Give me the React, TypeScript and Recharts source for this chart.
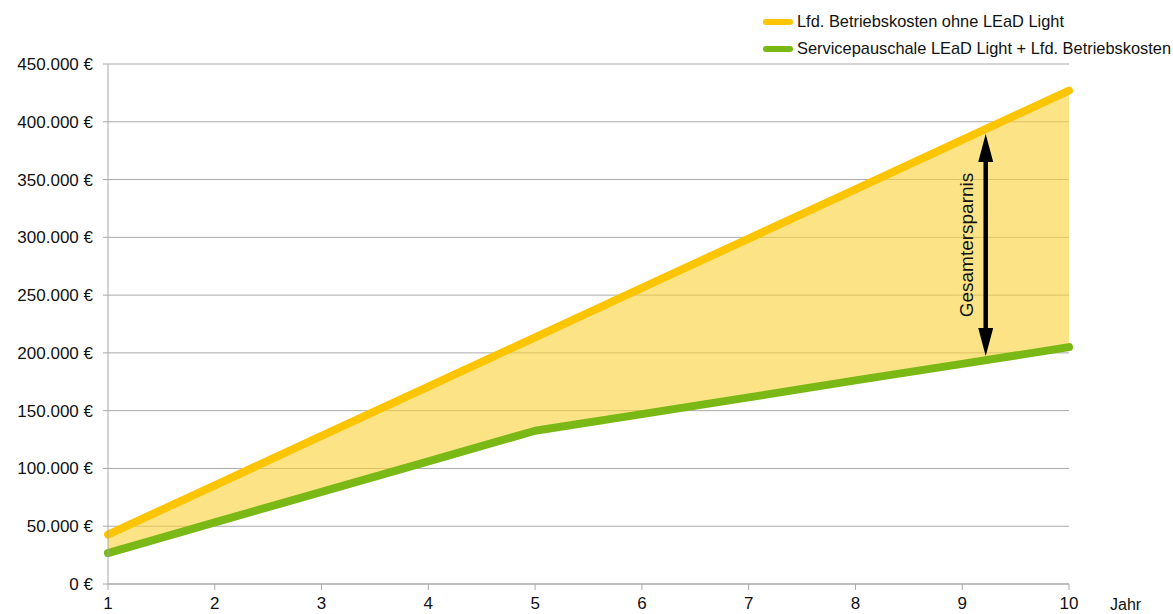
import {
  ComposedChart,
  Area,
  Line,
  CartesianGrid,
  XAxis,
  YAxis,
  ReferenceLine,
} from "recharts";

// Jahr 1..10
const years = [1, 2, 3, 4, 5, 6, 7, 8, 9, 10];
// Lfd. Betriebskosten ohne LEaD Light
const ohneLead = [42700, 85400, 128100, 170800, 213500, 256200, 298900, 341600, 384300, 427000];
// Servicepauschale LEaD Light + Lfd. Betriebskosten
const mitLead = [26800, 53300, 79700, 106200, 132600, 147000, 161500, 176200, 190500, 205000];
const yTicks = [0, 50000, 100000, 150000, 200000, 250000, 300000, 350000, 400000, 450000];
const arrowYear = 9.22;
const arrowFrom = 197300;
const arrowTo = 389400;

const YELLOW = "#fcc500";
const GREEN = "#7ab815";
const FILL = "#fad33c";
const GRID = "#a9a9a9";
const FONT = "'Liberation Sans', Arial, sans-serif";

const data = years.map((y, i) => ({
  year: y,
  ohne: ohneLead[i],
  mit: mitLead[i],
  band: [mitLead[i], ohneLead[i]],
}));

const legendItems = [
  { name: "Lfd. Betriebskosten ohne LEaD Light", color: YELLOW },
  { name: "Servicepauschale LEaD Light + Lfd. Betriebskosten", color: GREEN },
];

function euro(v: number) {
  const s = String(Math.round(v));
  const parts: string[] = [];
  for (let i = s.length; i > 0; i -= 3) parts.unshift(s.slice(Math.max(0, i - 3), i));
  return parts.join(".") + " €";
}

function Arrow(props: any) {
  const { x1, y1, x2, y2 } = props;
  const top = Math.min(y1, y2);
  const bottom = Math.max(y1, y2);
  const x = x1;
  const hl = 28;
  const hw = 7.5;
  const mid = (top + bottom) / 2;
  return (
    <g>
      <line x1={x} y1={top + hl - 2} x2={x} y2={bottom - hl + 2} stroke="#000" strokeWidth={4.5} />
      <polygon points={`${x},${top} ${x - hw},${top + hl} ${x + hw},${top + hl}`} fill="#000" />
      <polygon points={`${x},${bottom} ${x - hw},${bottom - hl} ${x + hw},${bottom - hl}`} fill="#000" />
      <text
        x={x - 19}
        y={mid}
        transform={`rotate(-90 ${x - 19} ${mid})`}
        textAnchor="middle"
        dominantBaseline="central"
        fontSize={19}
        fontFamily={FONT}
        fill="#111"
      >
        Gesamtersparnis
      </text>
    </g>
  );
}

export default function App() {
  return (
    <div style={{ position: "absolute", left: 0, top: 0, width: 1173, height: 614, background: "#fff" }}>
      <ComposedChart
        width={1173}
        height={614}
        data={data}
        margin={{ top: 64, right: 104, left: 8, bottom: 0 }}
      >
        <CartesianGrid stroke={GRID} vertical={false} />
        <XAxis
          dataKey="year"
          type="number"
          domain={[1, 10]}
          ticks={years}
          height={30}
          axisLine={{ stroke: GRID }}
          tickLine={{ stroke: GRID }}
          tickSize={6}
          tickMargin={7}
          tick={{ fill: "#111", fontSize: 17, fontFamily: FONT }}
          label={{
            value: "Jahr",
            position: "right",
            offset: 41,
            dy: 5,
            fill: "#111",
            fontSize: 16,
            fontFamily: FONT,
          }}
        />
        <YAxis
          domain={[0, 450000]}
          ticks={yTicks}
          width={100}
          interval={0}
          axisLine={{ stroke: GRID }}
          tickLine={{ stroke: GRID }}
          tickSize={5}
          tickMargin={10}
          tickFormatter={euro}
          tick={{ fill: "#111", fontSize: 17, fontFamily: FONT }}
        />
        <Area
          dataKey="band"
          type="linear"
          stroke="none"
          fill={FILL}
          fillOpacity={0.62}
          isAnimationActive={false}
          activeDot={false}
        />
        <Line
          dataKey="mit"
          type="linear"
          stroke={GREEN}
          strokeWidth={8}
          strokeLinecap="round"
          strokeLinejoin="round"
          dot={false}
          activeDot={false}
          isAnimationActive={false}
        />
        <Line
          dataKey="ohne"
          type="linear"
          stroke={YELLOW}
          strokeWidth={8}
          strokeLinecap="round"
          strokeLinejoin="round"
          dot={false}
          activeDot={false}
          isAnimationActive={false}
        />
        <ReferenceLine
          segment={[
            { x: arrowYear, y: arrowFrom },
            { x: arrowYear, y: arrowTo },
          ]}
          shape={Arrow}
        />
      </ComposedChart>
      <div style={{ position: "absolute", left: 763, top: 8, fontFamily: FONT, fontSize: 16.4, color: "#111" }}>
        {legendItems.map((it) => (
          <div key={it.name} style={{ display: "flex", alignItems: "center", height: 27 }}>
            <span
              style={{
                display: "inline-block",
                width: 30,
                height: 6,
                borderRadius: 3,
                background: it.color,
                marginRight: 4,
              }}
            />
            <span>{it.name}</span>
          </div>
        ))}
      </div>
    </div>
  );
}
